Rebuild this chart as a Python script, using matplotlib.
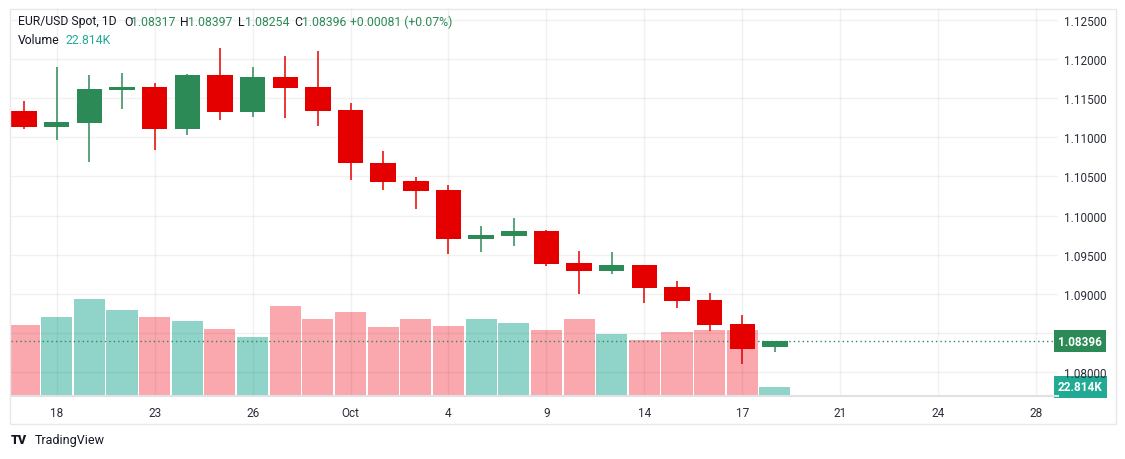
import matplotlib
matplotlib.use("Agg")
import matplotlib.pyplot as plt
from matplotlib.patches import Rectangle

plt.rcParams['font.family'] = ['Roboto', 'DejaVu Sans']

# daily EUR/USD candles, 17 Sep - 18 Oct
dates = ['Sep 17', 'Sep 18', 'Sep 19', 'Sep 20', 'Sep 23', 'Sep 24', 'Sep 25', 'Sep 26',
         'Sep 27', 'Sep 30', 'Oct 1', 'Oct 2', 'Oct 3', 'Oct 4', 'Oct 7', 'Oct 8',
         'Oct 9', 'Oct 10', 'Oct 11', 'Oct 14', 'Oct 15', 'Oct 16', 'Oct 17', 'Oct 18']
opens = [1.11340, 1.11136, 1.11187, 1.11605, 1.11643, 1.11110, 1.11797, 1.11328,
         1.11771, 1.11643, 1.11349, 1.10672, 1.10442, 1.10327, 1.09704, 1.09742,
         1.09802, 1.09393, 1.09295, 1.09368, 1.09087, 1.08920, 1.08614, 1.08317]
highs = [1.11468, 1.11895, 1.11797, 1.11822, 1.11695, 1.11810, 1.12142, 1.11899,
         1.12044, 1.12104, 1.11439, 1.10825, 1.10493, 1.10391, 1.09866, 1.09969,
         1.09815, 1.09547, 1.09534, 1.09370, 1.09163, 1.09010, 1.08729, 1.08397]
lows = [1.11106, 1.10970, 1.10688, 1.11366, 1.10842, 1.11034, 1.11225, 1.11264,
        1.11251, 1.11149, 1.10458, 1.10330, 1.10088, 1.09512, 1.09538, 1.09615,
        1.09359, 1.08999, 1.09257, 1.08886, 1.08822, 1.08528, 1.08106, 1.08254]
closes = [1.11136, 1.11196, 1.11618, 1.11643, 1.11110, 1.11797, 1.11328, 1.11771,
          1.11634, 1.11340, 1.10676, 1.10433, 1.10318, 1.09704, 1.09751, 1.09802,
          1.09384, 1.09295, 1.09368, 1.09078, 1.08911, 1.08605, 1.08298, 1.08396]
volumes = [181, 201, 247, 219, 199, 189, 171, 150, 227, 196, 212, 176, 194, 178,
           196, 184, 168, 196, 156, 143, 163, 168, 168, 22.814]  # thousands

tick_pos = [1, 4, 7, 10, 13, 16, 19, 22, 25, 28, 31]
tick_labels = ['18', '23', '26', 'Oct', '4', '9', '14', '17', '21', '24', '28']
price_ticks = [1.080, 1.085, 1.090, 1.095, 1.100, 1.105, 1.110, 1.115, 1.120, 1.125]

UP = '#2c8a57'
DOWN = '#e50000'
VOL_UP = (34/255, 171/255, 148/255, 0.5)
VOL_DOWN = (247/255, 82/255, 95/255, 0.5)
TXT = '#131722'

W, H = 1125, 460
fig = plt.figure(figsize=(W / 100, H / 100), dpi=100)
rect = [11 / W, 1 - 397 / H, (1058 - 11) / W, (397 - 9) / H]

# volume pane underneath
axv = fig.add_axes(rect)
x = list(range(len(dates)))
vcol = [VOL_UP if c >= o else VOL_DOWN for o, c in zip(opens, closes)]
axv.bar(x, volumes, width=0.95, color=vcol, linewidth=0)
axv.set_ylim(0, volumes[-1] * 388 / 9)
axv.set_xlim(-0.4, 31.67)
axv.axis('off')

# price pane on top
ax = fig.add_axes(rect, sharex=axv)
ax.patch.set_alpha(0)
col = [UP if c >= o else DOWN for o, c in zip(opens, closes)]
ax.vlines(x, lows, highs, color=col, linewidth=1.1, zorder=3)
bottoms = [min(o, c) for o, c in zip(opens, closes)]
heights = [max(abs(c - o), 0.00004) for o, c in zip(opens, closes)]
ax.bar(x, heights, bottom=bottoms, width=0.78, color=col, linewidth=0, zorder=4)
ax.set_ylim(1.07693, 1.12653)
ax.set_xlim(-0.4, 31.67)

ax.axhline(closes[-1], color=UP, linestyle=(0, (1, 2.2)), linewidth=1.0, zorder=2)

ax.set_yticks(price_ticks)
ax.set_yticklabels(['%.5f' % p for p in price_ticks])
ax.yaxis.tick_right()
ax.set_xticks(tick_pos)
ax.set_xticklabels(tick_labels)
ax.tick_params(axis='y', length=0, pad=4, labelsize=8.5, labelcolor='#2a2e39')
ax.tick_params(axis='x', length=0, pad=7, labelsize=8.5, labelcolor='#2a2e39')
ax.grid(True, color='#000000', alpha=0.055, linewidth=1)
for s in ['top', 'left', 'right']:
    ax.spines[s].set_visible(False)
ax.spines['bottom'].set_color('#dfe1e6')
ax.spines['bottom'].set_linewidth(1.5)

# last price / volume tags
ax.annotate('%.5f' % closes[-1], xy=(1, closes[-1]), xycoords=('axes fraction', 'data'),
            xytext=(0, 0), textcoords='offset points', ha='left', va='center',
            color='white', fontsize=8.5, fontweight='bold', annotation_clip=False,
            bbox=dict(boxstyle='square,pad=0.35', fc=UP, ec='none'), zorder=10)
axv.annotate('22.814K', xy=(1, volumes[-1]), xycoords=('axes fraction', 'data'),
             xytext=(0, 0), textcoords='offset points', ha='left', va='center',
             color='white', fontsize=8.5, fontweight='bold', annotation_clip=False,
             bbox=dict(boxstyle='square,pad=0.35', fc='#22ab94', ec='none'), zorder=10)

# chart frame
fig.add_artist(Rectangle((10 / W, 1 - 425 / H), (1116 - 10) / W, (425 - 10) / H,
                         transform=fig.transFigure, fill=False, edgecolor='#e6e8ed',
                         linewidth=1))

# legend lines
parts = [('EUR/USD Spot, 1D', TXT, 18), ('O', TXT, 124), ('1.08317', UP, 131),
         ('H', TXT, 180), ('1.08397', UP, 188), ('L', TXT, 238), ('1.08254', UP, 245),
         ('C', TXT, 294), ('1.08396', UP, 302), ('+0.00081 (+0.07%)', UP, 350)]
for s, c, px in parts:
    fig.text(px / W, 1 - 22 / H, s, color=c, fontsize=8.8, va='center', ha='left')
fig.text(18 / W, 1 - 41 / H, 'Volume', color=TXT, fontsize=8.8, va='center')
fig.text(65 / W, 1 - 41 / H, '22.814K', color='#22ab94', fontsize=8.8, va='center')

fig.text(11 / W, 1 - 441 / H, 'TV', color=TXT, fontsize=9, fontweight='black', va='center')
fig.text(35 / W, 1 - 441 / H, 'TradingView', color=TXT, fontsize=9, va='center')

fig.savefig('out.png', dpi=100)
